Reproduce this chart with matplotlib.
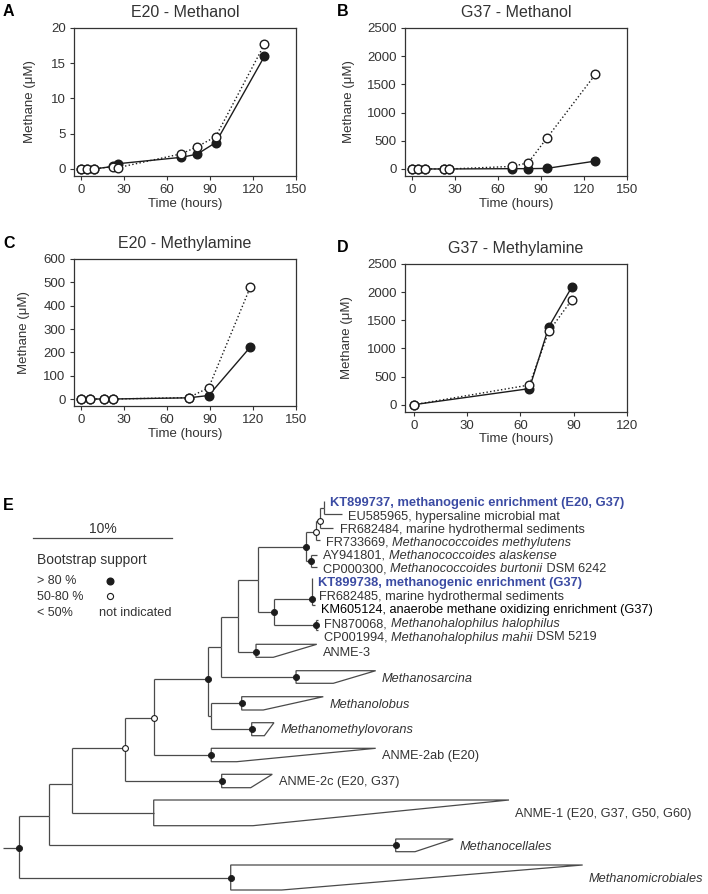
import numpy as np
import matplotlib
matplotlib.use("Agg")
import matplotlib.pyplot as plt
import matplotlib.transforms as mtransforms
from matplotlib.patches import Polygon

plt.rcParams['font.family'] = ['Liberation Sans', 'DejaVu Sans']

# ---- time courses (filled = solid line, open = dotted line)
a_time = [0, 4, 9, 22, 26, 70, 81, 94, 128]
a_filled = [0, 0, 0, 0.35, 0.75, 1.65, 2.1, 3.75, 16.0]
a_open = [0, 0, 0.05, 0.3, 0.2, 2.15, 3.15, 4.6, 17.7]

b_time = [0, 4, 9, 22, 26, 70, 81, 94, 128]
b_filled = [0, 0, 0, 0, 0, 5, 5, 10, 140]
b_open = [0, 0, 0, 0, 0, 45, 110, 545, 1680]

c_time = [0, 6, 16, 22, 75, 89, 118]
c_filled = [0, 0, 0, 0, 5, 15, 222]
c_open = [0, 0, 0, 0, 6, 48, 478]

d_time = [0, 65, 76, 89]
d_filled = [0, 285, 1385, 2095]
d_open = [0, 350, 1305, 1865]

# ---- tree: depth in % divergence from root, row = vertical slot
tree_nodes = [
    # name, parent, depth, row, bootstrap
    ("root", None, 0.00, 847.7, "high"),
    ("n_a1", "root", 2.14, 816.0, None),
    ("n_a2", "n_a1", 3.81, 784.0, None),
    ("n_a3", "n_a2", 7.60, 748.3, "mid"),
    ("n_a4", "n_a3", 9.69, 718.0, "mid"),
    ("n_b", "n_a4", 13.61, 679.3, "high"),
    ("n_c", "n_b", 14.51, 646.7, None),
    ("n_lob", "n_b", 13.76, 716.3, None),
    ("n_d", "n_c", 15.76, 616.7, None),
    ("n_e", "n_d", 17.19, 580.0, None),
    ("n_coc", "n_e", 20.60, 547.3, "high"),
    ("n_o2", "n_coc", 21.35, 531.7, "mid"),
    ("n_o1", "n_o2", 21.63, 521.0, "mid"),
    ("n_kt37", "n_o1", 21.90, 508.0, None),
    ("n_ay", "n_coc", 20.96, 561.0, "high"),
    ("n_g", "n_e", 18.35, 612.3, "high"),
    ("n_kt38", "n_g", 21.04, 599.3, "high"),
    ("n_hal", "n_g", 21.35, 625.0, "high"),
]

# label parts: (text, italic)
leaves = [
    # parent, depth, row, label parts, label row, kind
    ("n_kt37", 21.90, 501.0, [("KT899737, methanogenic enrichment (E20, G37)", False)], 503.3, "new"),
    ("n_kt37", 23.19, 514.0, [("EU585965, hypersaline microbial mat", False)], 516.7, "ref"),
    ("n_o1", 22.60, 528.0, [("FR682484, marine hydrothermal sediments", False)], 530.0, "ref"),
    ("n_o2", 21.60, 540.0, [("FR733669, ", False), ("Methanococcoides methylutens", True)], 542.7, "ref"),
    ("n_ay", 21.42, 555.0, [("AY941801, ", False), ("Methanococcoides alaskense", True)], 556.0, "ref"),
    ("n_ay", 21.42, 567.0, [("CP000300, ", False), ("Methanococcoides burtonii", True),
                            (" DSM 6242", False)], 569.0, "ref"),
    ("n_kt38", 21.04, 578.3, [("KT899738, methanogenic enrichment (G37)", False)], 583.3, "new"),
    ("n_kt38", 21.09, 597.3, [("FR682485, marine hydrothermal sediments", False)], 597.3, "ref"),
    ("n_kt38", 21.24, 605.0, [("KM605124, anaerobe methane oxidizing enrichment (G37)", False)], 610.0, "own"),
    ("n_hal", 21.49, 620.0, [("FN870068, ", False), ("Methanohalophilus halophilus", True)], 624.5, "ref"),
    ("n_hal", 21.49, 630.0, [("CP001994, ", False), ("Methanohalophilus mahii", True),
                             (" DSM 5219", False)], 637.5, "ref"),
]

clades = [
    # label, parent, depth, row, top, bottom, tip depth, corner depth, bootstrap, italic
    ("ANME-3", "n_d", 17.03, 651.7, 644.3, 657.3, 21.40, 18.27, "high", False),
    ("Methanosarcina", "n_c", 19.91, 677.3, 670.7, 683.3, 25.64, 22.59, "high", True),
    ("Methanolobus", "n_lob", 16.00, 703.3, 696.7, 710.0, 21.87, 17.55, "high", True),
    ("Methanomethylovorans", "n_lob", 16.72, 729.0, 722.7, 735.7, 18.32, 17.63, "high", True),
    ("ANME-2ab (E20)", "n_a4", 13.81, 755.0, 748.3, 761.7, 25.64, 15.64, "high", False),
    ("ANME-2c (E20, G37)", "n_a3", 14.56, 780.7, 774.3, 787.7, 18.20, 16.65, "high", False),
    ("ANME-1 (E20, G37, G50, G60)", "n_a2", 9.67, 813.0, 800.0, 825.7, 35.23, 16.81, None, False),
    ("Methanocellales", "n_a1", 27.08, 845.0, 839.0, 851.7, 31.22, 28.47, "high", True),
    ("Methanomicrobiales", "root", 15.21, 877.7, 865.0, 890.0, 40.53, 18.88, "high", True),
]

INK = '#1c1c1c'
TXT = '#333333'
BRANCH = '#4a4a4a'
BLUE = '#3b4ba3'

W, H = 708, 894
fig = plt.figure(figsize=(W / 100, H / 100), dpi=100)
pix = mtransforms.Affine2D().scale(1 / W, -1 / H).translate(0, 1) + fig.transFigure


def box(l, t, r, b):
    return fig.add_axes([l / W, 1 - b / H, (r - l) / W, (b - t) / H])


# ---------------- panel E: tree (drawn first, full figure)
PX_PER_PCT = 13.9
ROOT_PX = 19.3
ax_t = fig.add_axes([0, 0, 1, 1])
ax_t.set_xlim(-ROOT_PX / PX_PER_PCT, (W - ROOT_PX) / PX_PER_PCT)
ax_t.set_ylim(H, 0)
ax_t.axis('off')
ax_t.patch.set_visible(False)

pos = {n[0]: (n[2], n[3]) for n in tree_nodes}
lk = dict(color=BRANCH, lw=0.9, solid_capstyle='butt', zorder=2)


def dot(x, y, kind):
    if kind == "high":
        ax_t.plot(x, y, 'o', ms=4.4, mfc=INK, mec=INK, mew=0.6, zorder=5)
    elif kind == "mid":
        ax_t.plot(x, y, 'o', ms=4.2, mfc='white', mec=INK, mew=0.8, zorder=5)


def branch(parent, x, y):
    px, py = pos[parent]
    ax_t.plot([px, px], [py, y], **lk)
    ax_t.plot([px, x], [y, y], **lk)


ax_t.plot([-1.2, 0], [pos["root"][1]] * 2, **lk)
for name, parent, x, y, boot in tree_nodes:
    if parent is not None:
        branch(parent, x, y)
for name, parent, x, y, boot in tree_nodes:
    dot(x, y, boot)

for parent, x, y, parts, lrow, kind in leaves:
    branch(parent, x, y)
    style = dict(fontsize=9.2, color=TXT)
    if kind == "new":
        style = dict(fontsize=9.3, color=BLUE, fontweight='bold')
    elif kind == "own":
        style = dict(fontsize=9.2, color='black')
    prev = None
    for txt, ital in parts:
        fs = 'italic' if ital else 'normal'
        if prev is None:
            prev = ax_t.text(x + 0.45, lrow, txt, va='center', ha='left', fontstyle=fs, **style)
        else:
            prev = ax_t.annotate(txt, xy=(1, 0.5), xycoords=prev, va='center', ha='left',
                                 fontstyle=fs, **style)

for label, parent, x, y, top, bot, tip, corner, boot, ital in clades:
    branch(parent, x, y)
    ax_t.add_patch(Polygon([(x, top), (tip, top), (corner, bot), (x, bot)], closed=True,
                           fill=False, ec=BRANCH, lw=0.9, zorder=2))
    dot(x, y, boot)
    ax_t.text(tip + 0.45, y + 1.5, label, va='center', ha='left', fontsize=9.2, color=TXT,
              fontstyle='italic' if ital else 'normal')

# scale bar and bootstrap legend
ax_t.plot([1.0, 11.0], [538.3, 538.3], color=BRANCH, lw=0.9)
ax_t.text(6.0, 529, "10%", ha='center', va='center', fontsize=10, color=TXT)
fig.text(37, 560, "Bootstrap support", transform=pix, ha='left', va='center', fontsize=10, color=TXT)
for lbl, note, yy, kind in [("> 80 %", None, 580.7, "high"), ("50-80 %", None, 596.7, "mid"),
                            ("< 50%", "not indicated", 612.7, None)]:
    fig.text(37, yy, lbl, transform=pix, ha='left', va='center', fontsize=9, color=TXT)
    if kind == "high":
        ax_t.plot((110 - ROOT_PX) / PX_PER_PCT, yy, 'o', ms=4.8, mfc=INK, mec=INK)
    elif kind == "mid":
        ax_t.plot((110 - ROOT_PX) / PX_PER_PCT, yy - 0.5, 'o', ms=4.4, mfc='white', mec=INK, mew=0.8)
    if note:
        fig.text(98.7, yy, note, transform=pix, ha='left', va='center', fontsize=9.2, color=TXT)


# ---------------- panels A-D: methane time courses
def kinetics(ax, t, filled, opened, xmax, ymax, ystep, title, ylpad):
    ax.plot(t, filled, ls='-', color=INK, lw=1.0, marker='o', ms=6.2, mfc=INK, mec=INK,
            mew=1, zorder=3, clip_on=False)
    ax.plot(t, opened, ls=':', color=INK, lw=1.0, marker='o', ms=6.2, mfc='white', mec=INK,
            mew=1, zorder=4, clip_on=False)
    ax.set_xlim(-5, xmax)
    ax.set_ylim(-0.05 * ymax, ymax)
    ax.set_xticks(np.arange(0, xmax + 1, 30))
    ax.set_yticks(np.arange(0, ymax + 1, ystep))
    ax.tick_params(direction='out', length=3, width=0.8, labelsize=9.5, colors=TXT, pad=3)
    for s in ax.spines.values():
        s.set_linewidth(0.9)
        s.set_color(TXT)
    ax.set_xlabel('Time (hours)', fontsize=9.5, color=TXT, labelpad=1)
    ax.set_ylabel('Methane (μM)', fontsize=9.5, color=TXT, labelpad=ylpad)
    ax.set_title(title, fontsize=11.5, color=TXT, pad=8)


ax_a = box(74, 28, 296, 176)
kinetics(ax_a, a_time, a_filled, a_open, 150, 20, 5, "E20 - Methanol", 11)
ax_b = box(405, 28, 627, 176)
kinetics(ax_b, b_time, b_filled, b_open, 150, 2500, 500, "G37 - Methanol", 9)
ax_c = box(74, 259, 296, 406)
kinetics(ax_c, c_time, c_filled, c_open, 150, 600, 100, "E20 - Methylamine", 10)
ax_d = box(405, 264, 627, 411.7)
kinetics(ax_d, d_time, d_filled, d_open, 120, 2500, 500, "G37 - Methylamine", 10)

for letter, x, y in [("A", 3, 11), ("B", 337, 11), ("C", 3, 243), ("D", 337, 247), ("E", 3, 505)]:
    fig.text(x, y, letter, transform=pix, ha='left', va='center', fontsize=11.5, fontweight='bold',
             color='black')

fig.savefig("out.png", dpi=100)
